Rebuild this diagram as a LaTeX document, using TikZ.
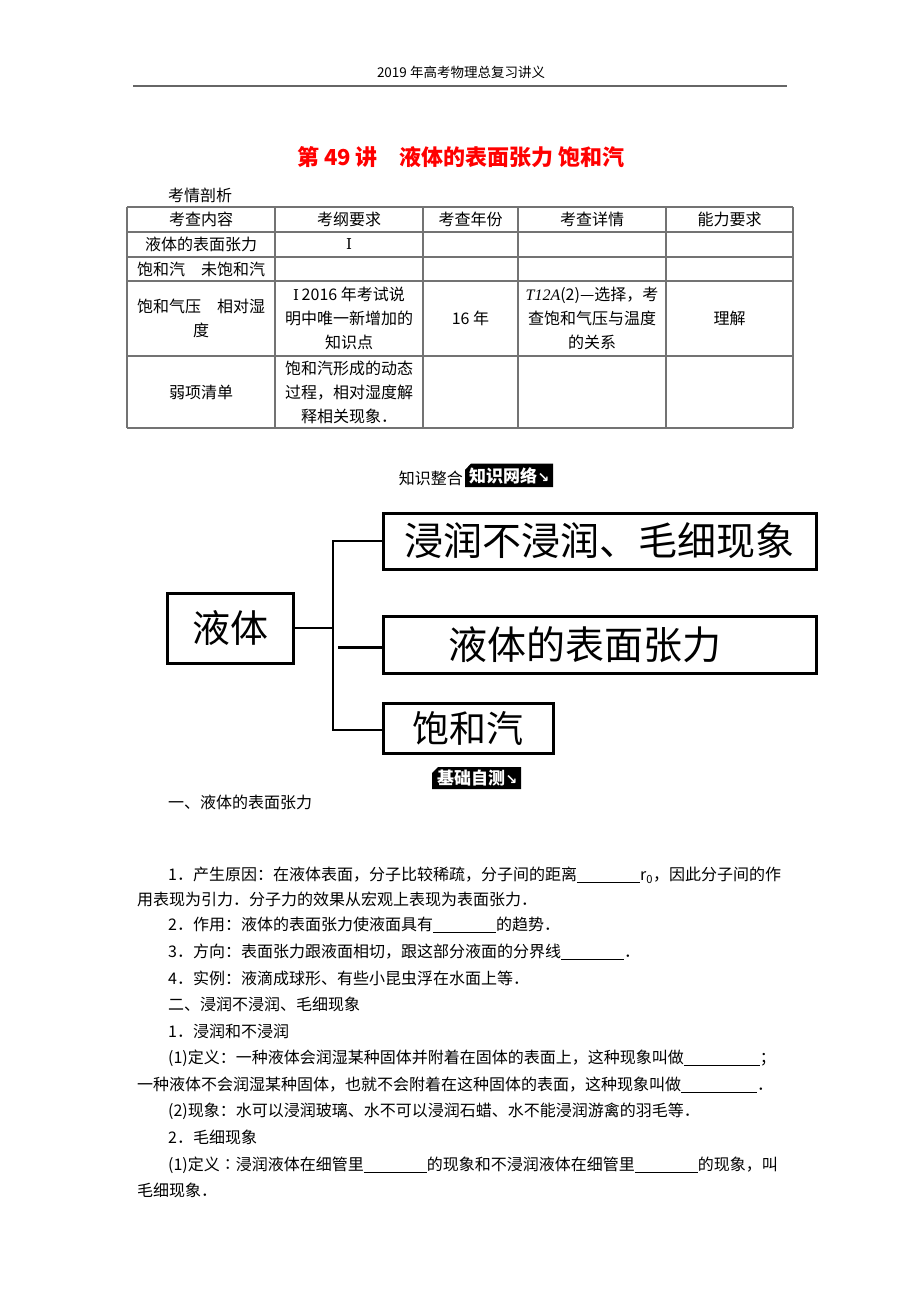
\documentclass[tikz,border=0pt]{standalone}
\usepackage{fontspec}
\newfontfamily\cjk{Noto Sans CJK SC}
\newfontfamily\dvs{DejaVu Sans}
\newfontfamily\dvserif{DejaVu Serif}
\newfontfamily\lser{Liberation Serif}
\newcommand\blank[1]{\rule[-2pt]{#1}{0.5pt}}
\begin{document}
\begin{tikzpicture}[x=1pt,y=-1pt,
  txt/.style={inner sep=0pt, font=\cjk\fontsize{16}{19}\selectfont},
  body/.style={txt, anchor=west},
  cell/.style={inner sep=0pt, align=center, font=\cjk\fontsize{16}{24}\selectfont},
  tbl/.style={line width=1.6pt, black!55},
  bigbox/.style={draw, line width=3pt, inner sep=0pt},
  conn/.style={line width=2pt, line join=miter},
  tag/.style={inner sep=0pt, text=white, anchor=west, font=\cjk\bfseries\fontsize{17}{20}\selectfont},
  tagarrow/.style={inner sep=0pt, text=white, anchor=base west, font=\dvs\bfseries\fontsize{14}{15}\selectfont}]
\useasboundingbox (0,0) rectangle (920,1302);
\fill[white] (0,0) rectangle (920,1302);

% header
\node[txt, font=\cjk\fontsize{13.5}{16}\selectfont] (hdr) at (461,72) {2019 年高考物理总复习讲义};
\draw[line width=1.8pt, black!60] (133,86) -- (787,86);

% title
\node[txt, text=red, font=\cjk\bfseries\fontsize{22}{24}\selectfont] (title) at (461,157) {第 49 讲\quad 液体的表面张力 饱和汽};

\node[body] (kq) at (168,195) {考情剖析};

% table
\foreach \y in {207,232,257,281,356,428} \draw[tbl] (127,\y) -- (793,\y);
\foreach \x in {127,275,423,518,666,793} \draw[tbl] (\x,207) -- (\x,428);

\node[cell] (h1) at (201,219.5) {考查内容};
\node[cell] (h2) at (349,219.5) {考纲要求};
\node[cell] (h3) at (470.5,219.5) {考查年份};
\node[cell] (h4) at (592,219.5) {考查详情};
\node[cell] (h5) at (729.5,219.5) {能力要求};

\node[cell] (r1a) at (201,244.5) {液体的表面张力};
\node[cell, font=\dvserif\fontsize{15}{24}\selectfont] (r1b) at (349,244.5) {Ⅰ};

\node[cell] (r2a) at (201,269) {饱和汽　未饱和汽};

\node[cell] (r3a) at (201,318.5) {饱和气压　相对湿\\度};
\node[cell] (r3b) at (349,318.5) {{\dvserif\fontsize{15}{24}\selectfont Ⅰ}\,2016 年考试说\\明中唯一新增加的\\知识点};
\node[cell] (r3c) at (470.5,318.5) {16 年};
\node[cell] (r3d) at (592,318.5) {{\lser\itshape T12A}(2)—选择，考\\查饱和气压与温度\\的关系};
\node[cell] (r3e) at (729.5,318.5) {理解};

\node[cell] (r4a) at (201,392) {弱项清单};
\node[cell] (r4b) at (349,392) {饱和汽形成的动态\\过程，相对湿度解\\释相关现象．};

% knowledge network tag
\node[txt, anchor=east] (zs) at (463,478) {知识整合};
\fill (465,470) -- (471,463.5) -- (553,463.5) -- (553,487) -- (465,487) -- cycle;
\node[tag] (zw) at (469,476) {知识网络};
\node[tagarrow] (zwa) at (zw.base east) {↘};

% diagram
\node[bigbox, minimum width=126pt, minimum height=70pt, font=\cjk\fontsize{38}{40}\selectfont] (ye) at (230,628) {液体};
\node[bigbox, minimum width=433pt, minimum height=56pt, font=\cjk\fontsize{39}{40}\selectfont] (b1) at (599.5,541) {浸润不浸润、毛细现象};
\node[bigbox, minimum width=433pt, minimum height=57pt, font=\cjk\fontsize{39}{40}\selectfont] (b2) at (599.5,644.5) {液体的表面张力\kern29pt};
\node[bigbox, minimum width=170pt, minimum height=50pt, font=\cjk\fontsize{37}{40}\selectfont] (b3) at (468,728) {饱和汽};

\coordinate (vt) at (333,541);
\coordinate (vb) at (333,730);
\coordinate (vm) at (338,647);
\draw[conn] (ye.east) -- (ye.east -| vt);
\draw[conn] (b1.west) -- (vt) -- (vb) -- (vb -| b3.west);
\draw[conn, line width=3pt] (vm) -- (vm -| b2.west);

% basic test tag
\fill (432,773) -- (438,767) -- (521,767) -- (521,789) -- (432,789) -- cycle;
\node[tag] (jc) at (437,778.5) {基础自测};
\node[tagarrow] (jca) at (jc.base east) {↘};

% body text
\node[body] (t1) at (168,802) {一、液体的表面张力};
\node[body] (t2) at (168,875) {1．产生原因：在液体表面，分子比较稀疏，分子间的距离\blank{63pt}r\textsubscript{0}，因此分子间的作};
\node[body] (t3) at (137,899) {用表现为引力．分子力的效果从宏观上表现为表面张力．};
\node[body] (t4) at (168,925) {2．作用：液体的表面张力使液面具有\blank{63pt}的趋势．};
\node[body] (t5) at (168,952) {3．方向：表面张力跟液面相切，跟这部分液面的分界线\blank{63pt}．};
\node[body] (t6) at (168,978) {4．实例：液滴成球形、有些小昆虫浮在水面上等．};
\node[body] (t7) at (168,1004) {二、浸润不浸润、毛细现象};
\node[body] (t8) at (168,1031) {1．浸润和不浸润};
\node[body] (t9) at (168,1058) {(1)定义：一种液体会润湿某种固体并附着在固体的表面上，这种现象叫做\blank{76pt}；};
\node[body] (t10) at (137,1085) {一种液体不会润湿某种固体，也就不会附着在这种固体的表面，这种现象叫做\blank{76pt}．};
\node[body] (t11) at (168,1111) {(2)现象：水可以浸润玻璃、水不可以浸润石蜡、水不能浸润游禽的羽毛等．};
\node[body] (t12) at (168,1137) {2．毛细现象};
\node[body] (t13) at (168,1165) {(1)定义∶浸润液体在细管里\blank{63pt}的现象和不浸润液体在细管里\blank{63pt}的现象，叫};
\node[body] (t14) at (137,1190) {毛细现象．};
\end{tikzpicture}
\end{document}
